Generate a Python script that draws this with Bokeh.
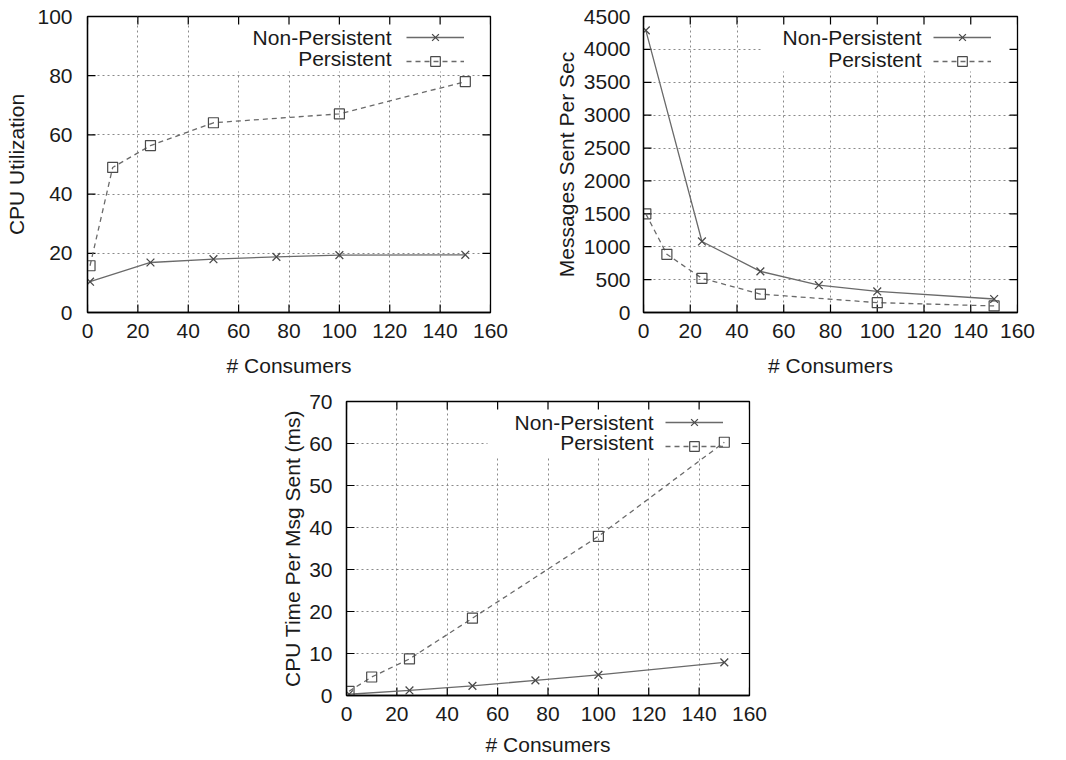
import math
from bokeh.plotting import figure
from bokeh.models import (Range1d, FixedTicker, Legend, LegendItem,
                          Label, BoxAnnotation, Spacer)
from bokeh.core.properties import value
from bokeh.layouts import row, column
from bokeh.embed import file_html
from bokeh.resources import INLINE

# ---------------- data ----------------
x_ticks = [0, 20, 40, 60, 80, 100, 120, 140, 160]

cpu_np_x = [1, 25, 50, 75, 100, 150]
cpu_np_y = [10.4, 16.9, 18.0, 18.8, 19.4, 19.5]
cpu_p_x = [1, 10, 25, 50, 100, 150]
cpu_p_y = [15.8, 49.0, 56.4, 64.1, 67.1, 78.0]
cpu_y_ticks = [0, 20, 40, 60, 80, 100]

msg_np_x = [1, 25, 50, 75, 100, 150]
msg_np_y = [4290, 1080, 625, 415, 320, 205]
msg_p_x = [1, 10, 25, 50, 100, 150]
msg_p_y = [1500, 885, 520, 280, 150, 100]
msg_y_ticks = [0, 500, 1000, 1500, 2000, 2500, 3000, 3500, 4000, 4500]

tpm_np_x = [1, 25, 50, 75, 100, 150]
tpm_np_y = [0.3, 1.2, 2.3, 3.6, 4.9, 7.9]
tpm_p_x = [1, 10, 25, 50, 100, 150]
tpm_p_y = [1.0, 4.4, 8.7, 18.4, 37.9, 60.3]
tpm_y_ticks = [0, 10, 20, 30, 40, 50, 60, 70]

series_names = ["Non-Persistent", "Persistent"]
x_label = "# Consumers"

# ---------------- style ----------------
FONT = "Liberation Sans"
FS = "21px"
TXT = "#1a1a1a"
LINE_C = "#6a6a6a"
MARK_C = "#4a4a4a"


def style_axis(ax, ticks):
    ax.ticker = FixedTicker(ticks=ticks)
    ax.major_tick_in = 0
    ax.major_tick_out = 0
    ax.minor_tick_line_color = None
    ax.axis_line_color = "black"
    ax.axis_line_width = 1.3
    ax.major_tick_line_color = None
    ax.major_label_text_font = FONT
    ax.major_label_text_font_size = FS
    ax.major_label_text_color = TXT
    ax.axis_label_text_font = FONT
    ax.axis_label_text_font_size = FS
    ax.axis_label_text_font_style = "normal"
    ax.axis_label_text_color = TXT


def make_chart(width, height, borders, y_max, y_ticks, y_label,
               npx, npy, px, py, ylab_standoff, ytick_standoff,
               xtick_standoff, xlab_standoff, box_left, rows, text_dx):
    bl, br, bt, bb = borders
    fw = width - bl - br
    fh = height - bt - bb
    x_max = x_ticks[-1]
    p = figure(width=width, height=height, output_backend="svg",
               toolbar_location=None,
               x_range=Range1d(0, x_max), y_range=Range1d(0, y_max),
               min_border_left=bl, min_border_right=br,
               min_border_top=bt, min_border_bottom=bb)
    p.background_fill_color = "white"
    p.border_fill_color = "white"
    p.outline_line_color = "black"
    p.outline_line_width = 1.3

    xa = p.xaxis[0]
    ya = p.yaxis[0]
    style_axis(xa, x_ticks)
    style_axis(ya, y_ticks)
    xa.axis_label = x_label
    ya.axis_label = y_label
    xa.major_label_standoff = xtick_standoff
    xa.axis_label_standoff = xlab_standoff
    ya.major_label_standoff = ytick_standoff
    ya.axis_label_standoff = ylab_standoff

    for g, t in ((p.xgrid[0], x_ticks), (p.ygrid[0], y_ticks)):
        g.ticker = FixedTicker(ticks=t)
        g.grid_line_color = "#8a8a8a"
        g.grid_line_dash = "2 3"
        g.grid_line_width = 1

    # key background (covers the grid like gnuplot's key), inset so
    # the frame outline stays visible
    p.add_layout(BoxAnnotation(left=box_left, left_units="screen",
                               right=fw - 2, right_units="screen",
                               top=fh - 2, top_units="screen",
                               bottom=fh - 55, bottom_units="screen",
                               fill_color="white", fill_alpha=1,
                               line_color=None, level="underlay"))

    # inward tick marks on all four sides (gnuplot style)
    tick_kw = dict(length=8, length_units="screen", line_color="black",
                   line_width=1.2)
    p.ray(x=x_ticks, y=[0] * len(x_ticks), angle=math.pi / 2, **tick_kw)
    p.ray(x=x_ticks, y=[y_max] * len(x_ticks), angle=-math.pi / 2, **tick_kw)
    p.ray(x=[0] * len(y_ticks), y=y_ticks, angle=0, **tick_kw)
    p.ray(x=[x_max] * len(y_ticks), y=y_ticks, angle=math.pi, **tick_kw)

    l1 = p.line(npx, npy, line_color=LINE_C, line_width=1.3)
    s1 = p.scatter(npx, npy, marker="x", size=11, line_color=MARK_C,
                   line_width=1.3)
    l2 = p.line(px, py, line_color=LINE_C, line_width=1.3, line_dash="5 4")
    s2 = p.scatter(px, py, marker="square", size=10, line_color=MARK_C,
                   fill_color=None, line_width=1.2)

    legend = Legend(items=[LegendItem(label=value(""), renderers=[l1, s1]),
                           LegendItem(label=value(""), renderers=[l2, s2])],
                    location="top_right", margin=9, padding=0, spacing=-3,
                    glyph_width=58, glyph_height=24, label_width=17,
                    label_height=24, label_standoff=0,
                    background_fill_alpha=0, border_line_color=None)
    p.add_layout(legend)

    for name, dy in zip(series_names, rows):
        p.add_layout(Label(x=fw - text_dx, y=fh - dy, x_units="screen",
                           y_units="screen", text=name, text_align="right",
                           text_baseline="middle", text_font=FONT,
                           text_font_size=FS, text_color=TXT))
    return p


p1 = make_chart(520, 380, (87, 30, 16, 68), 100, cpu_y_ticks, "CPU Utilization",
                cpu_np_x, cpu_np_y, cpu_p_x, cpu_p_y,
                ylab_standoff=6, ytick_standoff=15, xtick_standoff=11,
                xlab_standoff=13, box_left=128, rows=(21, 42), text_dx=99)
p2 = make_chart(540, 380, (123, 43, 16, 68), 4500, msg_y_ticks,
                "Messages Sent Per Sec",
                msg_np_x, msg_np_y, msg_p_x, msg_p_y,
                ylab_standoff=3, ytick_standoff=13, xtick_standoff=11,
                xlab_standoff=13, box_left=119, rows=(21, 43), text_dx=96)
p3 = make_chart(540, 378, (86, 51, 21, 63), 70, tpm_y_ticks,
                "CPU Time Per Msg Sent (ms)",
                tpm_np_x, tpm_np_y, tpm_p_x, tpm_p_y,
                ylab_standoff=2, ytick_standoff=14, xtick_standoff=11,
                xlab_standoff=9, box_left=141, rows=(21, 41), text_dx=96)

layout = column(row(p1, p2), row(Spacer(width=260, height=378), p3))

open("out.html", "w").write(file_html(layout, INLINE))
